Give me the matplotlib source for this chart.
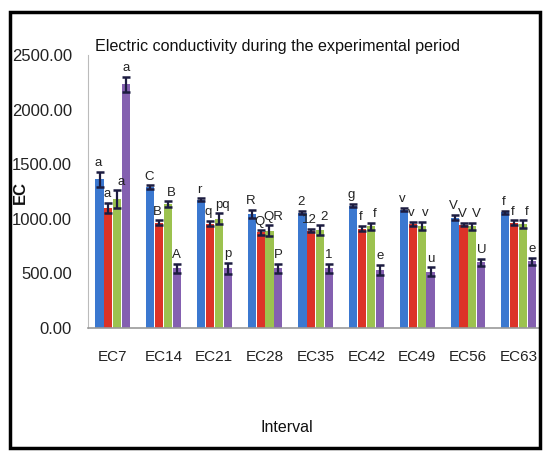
import numpy as np
import matplotlib
matplotlib.use("Agg")
import matplotlib.pyplot as plt
from matplotlib.patches import Rectangle

plt.rcParams["font.family"] = ["Liberation Sans", "DejaVu Sans"]

intervals = ["EC7", "EC14", "EC21", "EC28", "EC35", "EC42", "EC49", "EC56", "EC63"]

# four treatments per interval
blue_vals = [1360, 1290, 1175, 1045, 1055, 1120, 1085, 1010, 1060]
red_vals = [1100, 965, 955, 875, 890, 910, 955, 945, 965]
green_vals = [1180, 1135, 1000, 890, 895, 930, 935, 930, 950]
purple_vals = [2230, 545, 545, 545, 545, 530, 515, 600, 610]

blue_err = [70, 15, 12, 35, 15, 15, 15, 25, 15]
red_err = [45, 20, 25, 20, 15, 25, 20, 15, 20]
green_err = [80, 25, 50, 50, 45, 30, 35, 35, 35]
purple_err = [70, 45, 50, 45, 40, 45, 40, 35, 30]

blue_lab = ["a", "C", "r", "R", "2", "g", "v", "V", "f"]
red_lab = ["a", "B", "q", "Q", "12", "f", "v", "V", "f"]
green_lab = ["a", "B", "pq", "QR", "2", "f", "v", "V", "f"]
purple_lab = ["a", "A", "p", "P", "1", "e", "u", "U", "e"]

series = [
    (blue_vals, blue_err, blue_lab, "#3b78d0"),
    (red_vals, red_err, red_lab, "#dc3328"),
    (green_vals, green_err, green_lab, "#9cc24f"),
    (purple_vals, purple_err, purple_lab, "#8460b0"),
]

fig = plt.figure(figsize=(5.45, 4.51), dpi=100)
ax = fig.add_axes([88 / 545, 1 - 328 / 451, (541 - 88) / 545, (328 - 55) / 451])

x = np.arange(len(intervals))
width = 0.16
step = 0.175
shift = [-0.03, -0.03, 0.07, 0.0]  # nudge crowded letters apart
for k, (vals, err, labs, col) in enumerate(series):
    pos = x + (k - 1.5) * step
    ax.bar(pos, vals, width, color=col, zorder=2)
    ax.errorbar(pos, vals, yerr=err, fmt="none", ecolor="#1c1c40",
                elinewidth=1.6, capsize=3, capthick=1.8, zorder=3)
    for p, v, e, t in zip(pos, vals, err, labs):
        ax.text(p + shift[k], v + e + 25, t, ha="center", va="bottom",
                fontsize=9.5, color="#222222")

ax.set_xlim(-0.49, 8.44)
ax.set_ylim(0, 2500)
ax.set_yticks(np.arange(0, 2501, 500))
ax.set_yticklabels([f"{v:.2f}" for v in np.arange(0, 2501, 500)])
ax.set_xticks(x)
ax.set_xticklabels(intervals)
ax.tick_params(axis="both", length=0, colors="#222222")
ax.tick_params(axis="y", pad=11.5, labelsize=12)
ax.tick_params(axis="x", pad=16, labelsize=11)

for s in ["top", "right"]:
    ax.spines[s].set_visible(False)
ax.spines["left"].set_color("#bbbbbb")
ax.spines["bottom"].set_color("#999999")
ax.spines["bottom"].set_linewidth(1.2)

fig.text(95 / 545, 1 - 47 / 451, "Electric conductivity during the experimental period",
         fontsize=11.6, ha="left", va="center", color="#111111")
fig.text(287 / 545, 1 - 427 / 451, "Interval", fontsize=11.5, ha="center",
         va="center", color="#111111")
fig.text(20 / 545, 1 - 192 / 451, "EC", fontsize=12, fontweight="bold",
         rotation=90, ha="center", va="center", color="#111111")

# outer frame around the chart
fig.patches.append(Rectangle((10 / 545, 1 - 448 / 451), (540 - 10) / 545,
                             (448 - 12) / 451, transform=fig.transFigure,
                             fill=False, edgecolor="black", linewidth=2.5))

fig.savefig("out.png", dpi=100)
